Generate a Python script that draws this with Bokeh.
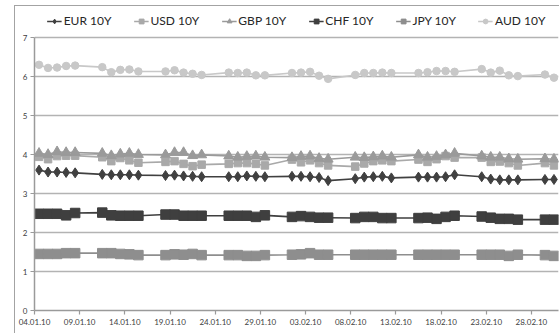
import pandas as pd
from bokeh.plotting import figure
from bokeh.models import Legend, LegendItem, FixedTicker, DatetimeTickFormatter, Range1d
from bokeh.embed import file_html
from bokeh.resources import INLINE

# Trading days (10-year government bond yields, %)
dates = [
    "2010-01-04", "2010-01-05", "2010-01-06", "2010-01-07", "2010-01-08",
    "2010-01-11", "2010-01-12", "2010-01-13", "2010-01-14", "2010-01-15",
    "2010-01-18", "2010-01-19", "2010-01-20", "2010-01-21", "2010-01-22",
    "2010-01-25", "2010-01-26", "2010-01-27", "2010-01-28", "2010-01-29",
    "2010-02-01", "2010-02-02", "2010-02-03", "2010-02-04", "2010-02-05",
    "2010-02-08", "2010-02-09", "2010-02-10", "2010-02-11", "2010-02-12",
    "2010-02-15", "2010-02-16", "2010-02-17", "2010-02-18", "2010-02-19",
    "2010-02-22", "2010-02-23", "2010-02-24", "2010-02-25", "2010-02-26",
    "2010-03-01", "2010-03-02",
]

eur = [3.60, 3.55, 3.55, 3.54, 3.53, 3.49, 3.48, 3.48, 3.48, 3.47,
       3.46, 3.47, 3.45, 3.44, 3.43, 3.43, 3.43, 3.45, 3.44, 3.43,
       3.44, 3.44, 3.43, 3.41, 3.33, 3.38, 3.42, 3.43, 3.44, 3.40,
       3.42, 3.42, 3.42, 3.43, 3.48, 3.43, 3.37, 3.35, 3.35, 3.35,
       3.36, 3.36]
usd = [3.94, 3.88, 3.96, 3.97, 3.97, 3.93, 3.83, 3.91, 3.85, 3.79,
       3.81, 3.83, 3.76, 3.70, 3.74, 3.76, 3.78, 3.78, 3.76, 3.72,
       3.87, 3.80, 3.85, 3.78, 3.72, 3.69, 3.77, 3.83, 3.85, 3.83,
       3.87, 3.81, 3.88, 3.96, 3.92, 3.92, 3.81, 3.82, 3.78, 3.72,
       3.78, 3.72]
gbp = [4.03, 4.00, 4.07, 4.05, 4.05, 4.03, 3.97, 4.01, 4.03, 4.00,
       3.99, 4.05, 4.05, 3.97, 3.99, 3.96, 3.93, 3.95, 3.96, 3.93,
       3.92, 3.95, 3.96, 3.90, 3.88, 3.93, 3.92, 3.94, 3.96, 3.93,
       3.99, 3.93, 3.95, 3.99, 4.03, 3.96, 3.93, 3.93, 3.89, 3.88,
       3.89, 3.88]
chf = [2.48, 2.48, 2.48, 2.44, 2.50, 2.51, 2.44, 2.43, 2.43, 2.43,
       2.46, 2.46, 2.43, 2.43, 2.43, 2.43, 2.43, 2.43, 2.40, 2.44,
       2.40, 2.42, 2.40, 2.38, 2.38, 2.37, 2.40, 2.40, 2.37, 2.37,
       2.37, 2.38, 2.35, 2.40, 2.43, 2.41, 2.38, 2.35, 2.35, 2.33,
       2.33, 2.33]
jpy = [1.45, 1.45, 1.45, 1.47, 1.47, 1.47, 1.47, 1.45, 1.44, 1.42,
       1.42, 1.44, 1.43, 1.45, 1.42, 1.42, 1.42, 1.40, 1.40, 1.42,
       1.43, 1.44, 1.47, 1.43, 1.43, 1.43, 1.43, 1.43, 1.43, 1.43,
       1.43, 1.43, 1.43, 1.43, 1.43, 1.43, 1.43, 1.43, 1.40, 1.43,
       1.42, 1.40]
aud = [6.30, 6.22, 6.23, 6.27, 6.28, 6.24, 6.11, 6.17, 6.18, 6.13,
       6.13, 6.16, 6.10, 6.07, 6.04, 6.10, 6.09, 6.10, 6.03, 6.03,
       6.09, 6.10, 6.12, 6.02, 5.94, 6.04, 6.09, 6.09, 6.10, 6.09,
       6.09, 6.11, 6.14, 6.14, 6.12, 6.19, 6.10, 6.15, 6.03, 6.01,
       6.05, 5.97]

tick_dates = ["2010-01-04", "2010-01-09", "2010-01-14", "2010-01-19",
              "2010-01-24", "2010-01-29", "2010-02-03", "2010-02-08",
              "2010-02-13", "2010-02-18", "2010-02-23", "2010-02-28"]
y_ticks = [0, 1, 2, 3, 4, 5, 6, 7]

# each day's value sits in the middle of its day slot
x = pd.to_datetime(dates) + pd.Timedelta(hours=12)

def ms(s):
    return pd.Timestamp(s).timestamp() * 1000.0

# the frame reaches up into the legend strip; the scale itself stops at 7
p = figure(width=544, height=327, x_axis_type="datetime",
           output_backend="svg", toolbar_location=None,
           x_range=Range1d(ms("2010-01-04"), ms("2010-03-03")),
           y_range=Range1d(0, 7.795),
           min_border_left=19, min_border_right=1,
           min_border_top=0, min_border_bottom=23,
           margin=(6, 0, 0, 15))
p.styles = {"outline": "1px solid #a3a3a3"}
p.outline_line_color = None
p.background_fill_color = "white"
p.border_fill_color = "white"

p.xgrid.grid_line_color = None
p.ygrid.grid_line_color = "#b3b3b3"
p.ygrid.grid_line_width = 1.5

p.xaxis.ticker = FixedTicker(ticks=[ms(d) for d in tick_dates])
p.xaxis.formatter = DatetimeTickFormatter(days="%d.%m.%y", months="%d.%m.%y",
                                          hours="%d.%m.%y")
p.yaxis.ticker = FixedTicker(ticks=y_ticks)
p.yaxis.bounds = (0, 7)

for ax in (p.xaxis, p.yaxis):
    ax.axis_line_color = "#9a9a9a"
    ax.axis_line_width = 1.5
    ax.major_tick_line_color = "#9a9a9a"
    ax.major_tick_line_width = 1.2
    ax.major_tick_in = 0
    ax.major_tick_out = 4
    ax.minor_tick_line_color = None
    ax.major_label_text_font = "Lato"
    ax.major_label_text_font_size = "8px"
    ax.major_label_text_color = "#404040"
p.xaxis.major_label_standoff = 4
p.yaxis.major_label_standoff = 3

series = [
    ("EUR 10Y", eur, "#404040", "diamond", 10),
    ("USD 10Y", usd, "#a9a9a9", "square", 7.5),
    ("GBP 10Y", gbp, "#9a9a9a", "triangle", 10),
    ("CHF 10Y", chf, "#3f3f3f", "square", 9.5),
    ("JPY 10Y", jpy, "#8e8e8e", "square", 9.5),
    ("AUD 10Y", aud, "#c8c8c8", "circle", 7.5),
]

items = []
for label, vals, color, marker, size in series:
    ln = p.line(x, vals, line_color=color, line_width=1.6)
    sc = p.scatter(x, vals, marker=marker, size=size,
                   fill_color=color, line_color=color)
    items.append(LegendItem(label=label, renderers=[ln, sc]))

legend = Legend(items=items, orientation="horizontal", location="top_center",
                spacing=22, glyph_width=15, glyph_height=12, label_standoff=2,
                padding=0, margin=7, border_line_color=None,
                background_fill_alpha=0,
                label_text_font="Lato", label_text_font_size="12px",
                label_text_color="#262626")
p.add_layout(legend, "center")

open("out.html", "w").write(file_html(p, INLINE))
